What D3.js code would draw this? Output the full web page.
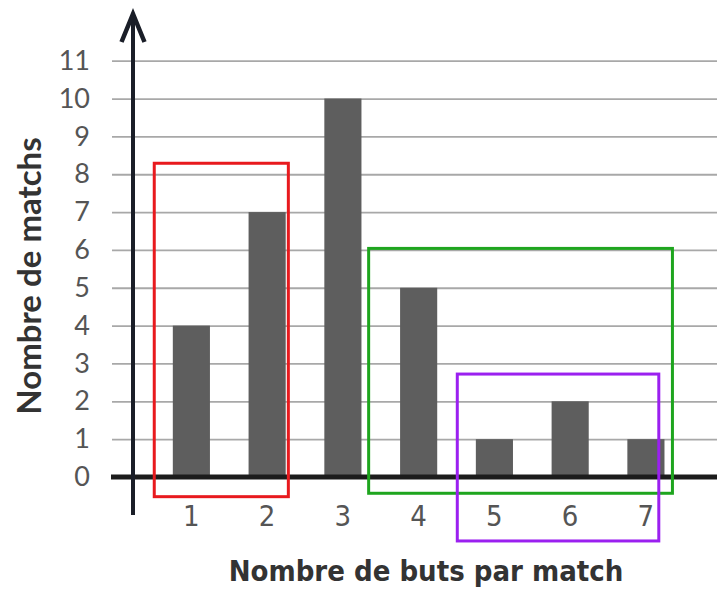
<!DOCTYPE html>
<html>
<head>
<meta charset="utf-8">
<script src="https://cdn.jsdelivr.net/npm/d3@7"></script>
<style>
  body { margin: 0; background: #fff; }
</style>
</head>
<body>
<div class="canvas"></div>
<script>
// goals per match and number of matches
const buts = ["1", "2", "3", "4", "5", "6", "7"];
const matchs = [4, 7, 10, 5, 1, 2, 1];
const yTicks = [0, 1, 2, 3, 4, 5, 6, 7, 8, 9, 10, 11];

// framed groups, in data units (x: goals, y: matches)
const cadres = [
    { x0: 0.51, x1: 2.28, y0: -0.52, y1: 8.29 },
    { x0: 3.34, x1: 7.35, y0: -0.43, y1: 6.04 },
    { x0: 4.51, x1: 7.17, y0: -1.69, y1: 2.72 }
];
const cadreColors = ["#e81a1e", "#1ea51e", "#9b20f0"];

const W = 717, H = 589;

const svg = d3.select(".canvas").append("svg")
    .attr("width", W)
    .attr("height", H);

const x = d3.scaleBand()
    .domain(buts)
    .range([153.5, 683.8])
    .paddingInner(0.51)
    .paddingOuter(0.255);

const y = d3.scaleLinear()
    .domain([0, 11])
    .range([477, 60.7]);

// continuous x for the frames
const xc = d3.scaleLinear()
    .domain([1, 7])
    .range([x("1") + x.bandwidth() / 2, x("7") + x.bandwidth() / 2]);

// gridlines + y labels
const yAxis = svg.append("g")
    .attr("transform", "translate(112,0)")
    .call(d3.axisLeft(y).tickValues(yTicks).tickSize(-(W - 112)).tickPadding(22));
yAxis.select(".domain").remove();
yAxis.selectAll(".tick line")
    .attr("stroke", "#a8a8a8")
    .attr("stroke-width", 1.8);
yAxis.selectAll(".tick text")
    .attr("fill", "#555")
    .attr("font-family", "Lato, sans-serif")
    .attr("font-size", 27);

// bars
svg.append("g").selectAll("rect")
    .data(matchs)
    .join("rect")
    .attr("x", (d, i) => x(buts[i]))
    .attr("y", d => y(d))
    .attr("width", x.bandwidth())
    .attr("height", d => y(0) - y(d))
    .attr("fill", "#5e5e5e");

// x axis
const xAxis = svg.append("g")
    .attr("transform", "translate(0," + y(0) + ")")
    .call(d3.axisBottom(x).tickSize(0).tickPadding(28));
xAxis.select(".domain").remove();
xAxis.selectAll(".tick text")
    .attr("fill", "#555")
    .attr("font-family", "'DejaVu Sans Condensed', 'DejaVu Sans', sans-serif")
    .attr("font-size", 29);

svg.append("line")
    .attr("x1", 111).attr("x2", W)
    .attr("y1", y(0)).attr("y2", y(0))
    .attr("stroke", "#1c1c1c")
    .attr("stroke-width", 5);

// y axis with arrow
svg.append("line")
    .attr("x1", 133).attr("x2", 133)
    .attr("y1", 515).attr("y2", 15)
    .attr("stroke", "#1a1e28")
    .attr("stroke-width", 4);
svg.append("path")
    .attr("d", "M121.5,42 L133,14 L144.5,42")
    .attr("fill", "none")
    .attr("stroke", "#1a1e28")
    .attr("stroke-width", 4.5)
    .attr("stroke-linejoin", "miter");

// frames
svg.append("g").selectAll("rect")
    .data(cadres)
    .join("rect")
    .attr("x", d => xc(d.x0))
    .attr("y", d => y(d.y1))
    .attr("width", d => xc(d.x1) - xc(d.x0))
    .attr("height", d => y(d.y0) - y(d.y1))
    .attr("fill", "none")
    .attr("stroke", (d, i) => cadreColors[i])
    .attr("stroke-width", 3);

// titles
svg.append("text")
    .attr("x", 426)
    .attr("y", 581)
    .attr("text-anchor", "middle")
    .attr("fill", "#333")
    .attr("font-family", "'DejaVu Sans Condensed', 'DejaVu Sans', sans-serif")
    .attr("font-weight", "bold")
    .attr("font-size", 29)
    .text("Nombre de buts par match");

svg.append("text")
    .attr("transform", "translate(41,276) rotate(-90)")
    .attr("text-anchor", "middle")
    .attr("fill", "#333")
    .attr("font-family", "Lato, sans-serif")
    .attr("font-weight", "bold")
    .attr("font-size", 33)
    .text("Nombre de matchs");
</script>
</body>
</html>
